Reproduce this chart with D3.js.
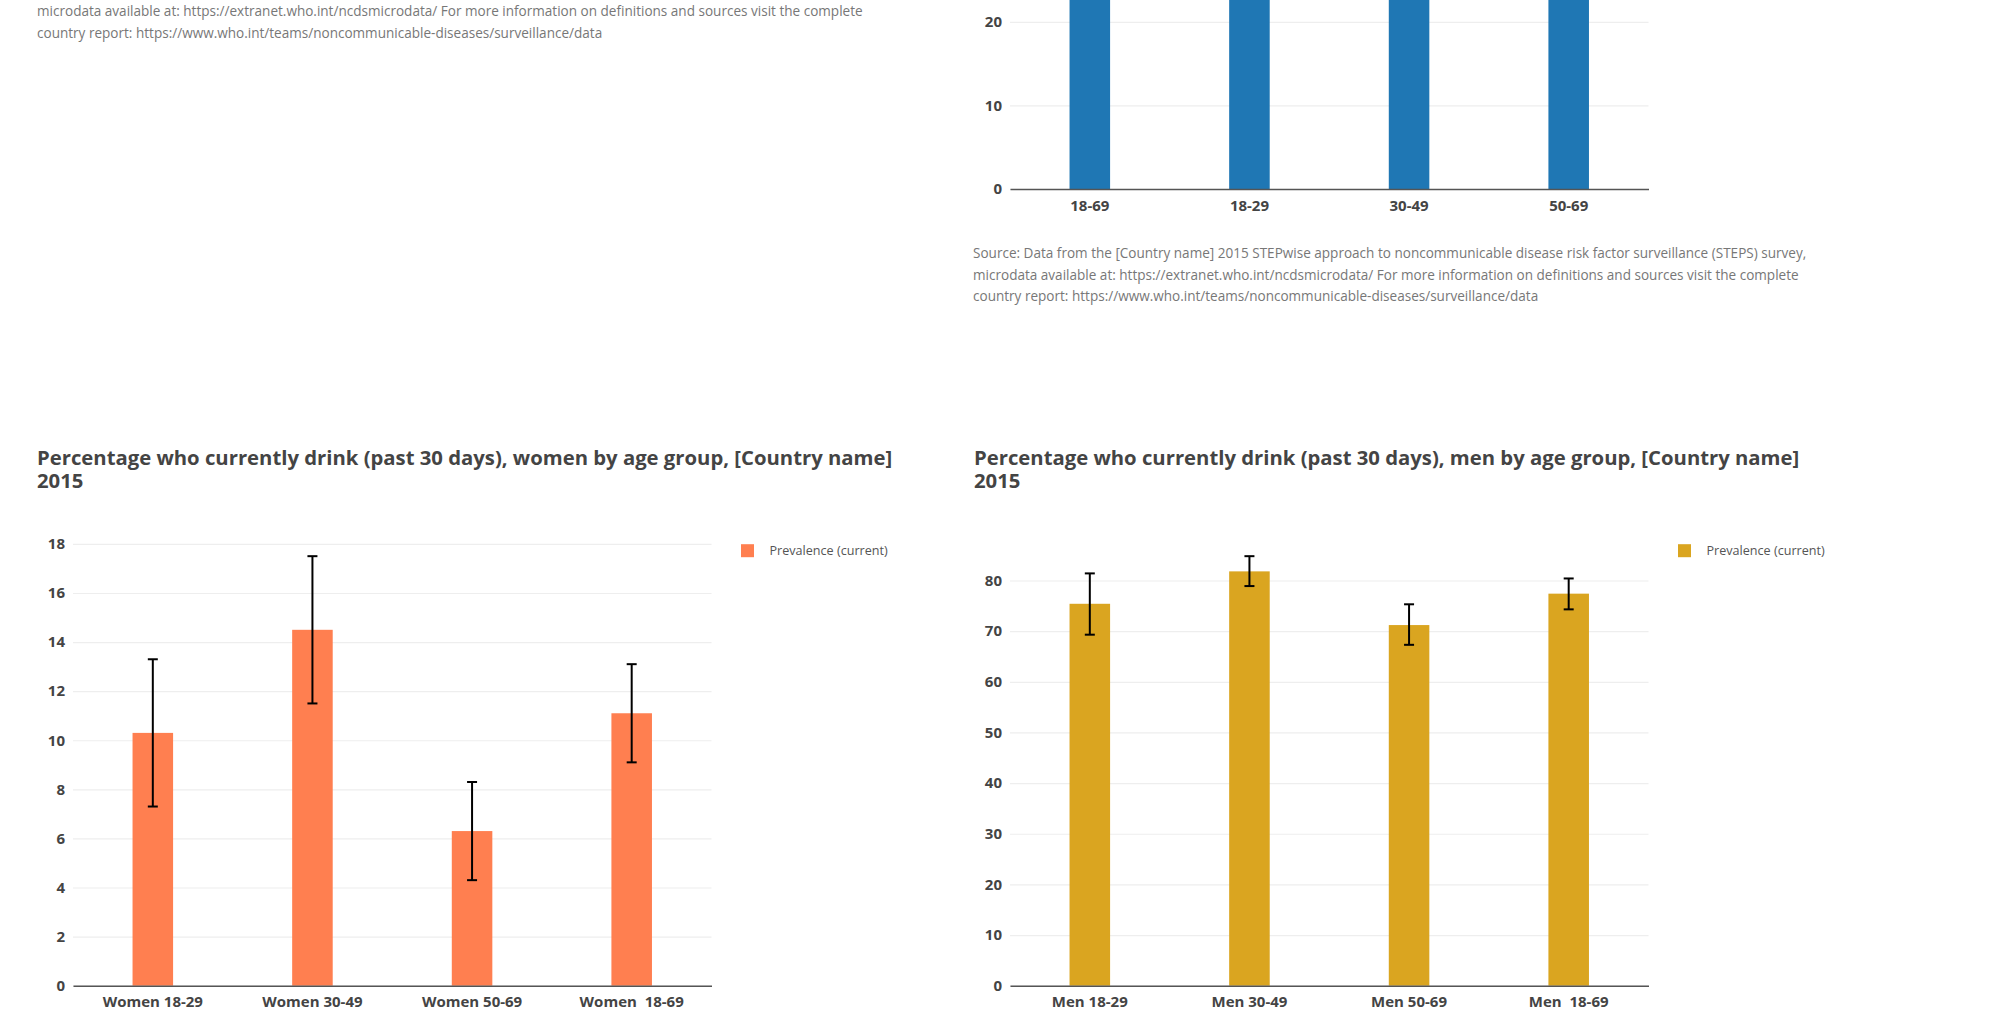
<!DOCTYPE html>
<html><head><meta charset="utf-8">
<script src="https://cdn.jsdelivr.net/npm/d3@7"></script>
<style>
body{margin:0;background:#fff;overflow:hidden;}
text{font-family:"Open Sans",sans-serif;white-space:pre;}
</style></head><body>
<svg id="c" width="1999" height="1030"></svg>
<script>
// ---- data ----
const bothCategories = ["18-69", "18-29", "30-49", "50-69"];
const bothValues = [44.2, 43.0, 48.0, 38.9];
const bothLower = [41.5, 39.2, 44.6, 35.0];
const bothUpper = [46.9, 46.8, 51.4, 42.8];
const bothTicks = [0, 10, 20];

const womenCategories = ["Women 18-29", "Women 30-49", "Women 50-69", "Women  18-69"];
const womenValues = [10.3, 14.5, 6.3, 11.1];
const womenLower = [7.3, 11.5, 4.3, 9.1];
const womenUpper = [13.3, 17.5, 8.3, 13.1];
const womenTicks = [0, 2, 4, 6, 8, 10, 12, 14, 16, 18];

const menCategories = ["Men 18-29", "Men 30-49", "Men 50-69", "Men  18-69"];
const menValues = [75.4, 81.8, 71.2, 77.4];
const menLower = [69.3, 78.9, 67.3, 74.3];
const menUpper = [81.4, 84.8, 75.3, 80.4];
const menTicks = [0, 10, 20, 30, 40, 50, 60, 70, 80];

const legendLabel = "Prevalence (current)";
const womenTitle = ["Percentage who currently drink (past 30 days), women by age group, [Country name]", "2015"];
const menTitle = ["Percentage who currently drink (past 30 days), men by age group, [Country name]", "2015"];
const sourceLines = [
  "Source: Data from the [Country name] 2015 STEPwise approach to noncommunicable disease risk factor surveillance (STEPS) survey,",
  "microdata available at: https://extranet.who.int/ncdsmicrodata/ For more information on definitions and sources visit the complete",
  "country report: https://www.who.int/teams/noncommunicable-diseases/surveillance/data"
];

// ---- drawing ----
const svg = d3.select("#c");
svg.append("rect").attr("width", 1999).attr("height", 1030).attr("fill", "#fff");

const PLOT_W = 638.5, PLOT_H = 451;

function drawChart(opt) {
  const g = svg.append("g").attr("transform", `translate(${opt.left},${opt.bottom - PLOT_H})`);
  const x = d3.scaleBand().domain(opt.categories).range([0, PLOT_W])
    .paddingInner(0.746).paddingOuter(0.373);
  const maxUp = d3.max(opt.upper);
  const y = d3.scaleLinear().domain([0, maxUp * 1.05]).range([PLOT_H, 0]);
  const visibleTicks = opt.ticks.filter(t => opt.bottom - PLOT_H + y(t) > 8);

  // gridlines + y labels
  const ya = g.append("g").call(d3.axisLeft(y).tickValues(visibleTicks).tickSize(-PLOT_W).tickPadding(8));
  ya.select(".domain").remove();
  ya.selectAll(".tick line").attr("stroke", "#eeeeee").attr("stroke-width", 1.2);
  ya.selectAll(".tick text").attr("fill", "#444").style("font-size", "15px").style("font-weight", "700")
    .style("font-family", "'Open Sans',sans-serif");

  // bars
  g.selectAll("rect.bar").data(opt.values).enter().append("rect")
    .attr("class", "bar")
    .attr("x", (d, i) => x(opt.categories[i]))
    .attr("width", x.bandwidth())
    .attr("y", d => y(d))
    .attr("height", d => PLOT_H - y(d))
    .attr("fill", opt.color);

  // error bars
  if (opt.showErr) {
    const eg = g.append("g").attr("stroke", "#000").attr("stroke-width", 2);
    opt.values.forEach((v, i) => {
      const cx = x(opt.categories[i]) + x.bandwidth() / 2;
      eg.append("line").attr("x1", cx).attr("x2", cx).attr("y1", y(opt.lower[i])).attr("y2", y(opt.upper[i]));
      eg.append("line").attr("x1", cx - 5).attr("x2", cx + 5).attr("y1", y(opt.upper[i])).attr("y2", y(opt.upper[i]));
      eg.append("line").attr("x1", cx - 5).attr("x2", cx + 5).attr("y1", y(opt.lower[i])).attr("y2", y(opt.lower[i]));
    });
  }

  // x axis
  const xa = g.append("g").attr("transform", `translate(0,${PLOT_H})`)
    .call(d3.axisBottom(x).tickSize(0).tickPadding(11));
  xa.select(".domain").attr("stroke", "#555").attr("stroke-width", 1.6);
  xa.selectAll(".tick text").attr("fill", "#444").style("font-size", "15px").style("font-weight", "700")
    .style("font-family", "'Open Sans',sans-serif");

  // legend
  if (opt.legend) {
    const lg = g.append("g").attr("transform", `translate(${PLOT_W + 29.5},${9.5})`);
    lg.append("rect").attr("width", 13).attr("height", 13).attr("fill", opt.color);
    lg.append("text").attr("x", 28.5).attr("y", 6.5).attr("dy", "0.35em")
      .attr("fill", "#555").style("font-size", "12.6px").text(legendLabel);
  }

  // title
  if (opt.title) {
    const t = svg.append("text").attr("x", opt.left - 36).attr("fill", "#444")
      .style("font-size", "20.3px").style("font-weight", "700");
    opt.title.forEach((line, i) => {
      t.append("tspan").attr("x", opt.left - 36).attr("y", 464.5 + i * 23).text(line);
    });
  }
}

drawChart({left: 1010, bottom: 189, categories: bothCategories, values: bothValues,
  lower: bothLower, upper: bothUpper, ticks: bothTicks, color: "#1f77b4", showErr: true, legend: false});
drawChart({left: 73, bottom: 985.7, categories: womenCategories, values: womenValues,
  lower: womenLower, upper: womenUpper, ticks: womenTicks, color: "#ff7f50", showErr: true, legend: true, title: womenTitle});
drawChart({left: 1010, bottom: 985.7, categories: menCategories, values: menValues,
  lower: menLower, upper: menUpper, ticks: menTicks, color: "#daa520", showErr: true, legend: true, title: menTitle});

// source notes
function source(x, y0, lines) {
  const t = svg.append("text").attr("fill", "#777").style("font-size", "13.55px");
  lines.forEach((l, i) => t.append("tspan").attr("x", x).attr("y", y0 + i * 21.7).text(l));
}
source(37, 16, sourceLines.slice(1));
source(973, 258, sourceLines);
</script>
</body></html>
